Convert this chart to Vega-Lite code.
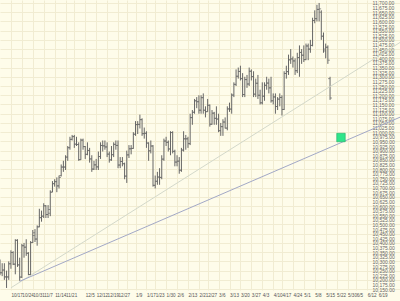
{
"$schema":"https://vega.github.io/schema/vega-lite/v6.json",
"width":400,"height":290,"padding":{"left":0,"top":0,"right":0,"bottom":11},"autosize":{"type":"none"},
"background":"#FEFCEA",
"config":{"view":{"stroke":null},"axis":{"labelFont":"Liberation Sans","title":null}},
"datasets":{
"bars":[
{"d":"2005-10-10","o":10292,"h":10310,"l":10225,"c":10238},
{"d":"2005-10-11","o":10238,"h":10290,"l":10220,"c":10253},
{"d":"2005-10-12","o":10253,"h":10290,"l":10200,"c":10216},
{"d":"2005-10-13","o":10216,"h":10250,"l":10156,"c":10216},
{"d":"2005-10-14","o":10216,"h":10300,"l":10200,"c":10287},
{"d":"2005-10-17","o":10287,"h":10360,"l":10260,"c":10348},
{"d":"2005-10-18","o":10348,"h":10355,"l":10280,"c":10285},
{"d":"2005-10-19","o":10285,"h":10420,"l":10230,"c":10414},
{"d":"2005-10-20","o":10414,"h":10420,"l":10270,"c":10281},
{"d":"2005-10-21","o":10281,"h":10320,"l":10195,"c":10215},
{"d":"2005-10-24","o":10215,"h":10395,"l":10210,"c":10385},
{"d":"2005-10-25","o":10385,"h":10400,"l":10320,"c":10377},
{"d":"2005-10-26","o":10377,"h":10420,"l":10330,"c":10344},
{"d":"2005-10-27","o":10344,"h":10350,"l":10225,"c":10229},
{"d":"2005-10-28","o":10229,"h":10410,"l":10225,"c":10402},
{"d":"2005-10-31","o":10402,"h":10470,"l":10400,"c":10440},
{"d":"2005-11-01","o":10455,"h":10475,"l":10405,"c":10421},
{"d":"2005-11-02","o":10421,"h":10495,"l":10385,"c":10487},
{"d":"2005-11-03","o":10487,"h":10585,"l":10485,"c":10537},
{"d":"2005-11-04","o":10537,"h":10575,"l":10515,"c":10545},
{"d":"2005-11-07","o":10545,"h":10615,"l":10535,"c":10601},
{"d":"2005-11-08","o":10601,"h":10605,"l":10535,"c":10554},
{"d":"2005-11-09","o":10554,"h":10605,"l":10535,"c":10561},
{"d":"2005-11-10","o":10581,"h":10685,"l":10545,"c":10675},
{"d":"2005-11-11","o":10675,"h":10735,"l":10675,"c":10721},
{"d":"2005-11-14","o":10721,"h":10745,"l":10705,"c":10732},
{"d":"2005-11-15","o":10732,"h":10755,"l":10675,"c":10709},
{"d":"2005-11-16","o":10709,"h":10765,"l":10695,"c":10755},
{"d":"2005-11-17","o":10765,"h":10825,"l":10760,"c":10811},
{"d":"2005-11-18","o":10811,"h":10845,"l":10785,"c":10811},
{"d":"2005-11-21","o":10811,"h":10875,"l":10795,"c":10865},
{"d":"2005-11-22","o":10865,"h":10925,"l":10845,"c":10916},
{"d":"2005-11-23","o":10916,"h":10975,"l":10905,"c":10961},
{"d":"2005-11-25","o":10961,"h":10985,"l":10955,"c":10976},
{"d":"2005-11-28","o":10976,"h":10985,"l":10915,"c":10935},
{"d":"2005-11-29","o":10935,"h":10975,"l":10925,"c":10933},
{"d":"2005-11-30","o":10933,"h":10945,"l":10845,"c":10851},
{"d":"2005-12-01","o":10851,"h":10965,"l":10850,"c":10957},
{"d":"2005-12-02","o":10957,"h":10965,"l":10905,"c":10922},
{"d":"2005-12-05","o":10922,"h":10925,"l":10855,"c":10880},
{"d":"2005-12-06","o":10880,"h":10945,"l":10875,"c":10901},
{"d":"2005-12-07","o":10901,"h":10915,"l":10835,"c":10855},
{"d":"2005-12-08","o":10855,"h":10875,"l":10785,"c":10800},
{"d":"2005-12-09","o":10800,"h":10845,"l":10795,"c":10823},
{"d":"2005-12-12","o":10823,"h":10855,"l":10795,"c":10812},
{"d":"2005-12-13","o":10812,"h":10895,"l":10795,"c":10868},
{"d":"2005-12-14","o":10868,"h":10945,"l":10855,"c":10928},
{"d":"2005-12-15","o":10928,"h":10955,"l":10895,"c":10926},
{"d":"2005-12-16","o":10926,"h":10955,"l":10905,"c":10920},
{"d":"2005-12-19","o":10920,"h":10945,"l":10865,"c":10881},
{"d":"2005-12-20","o":10881,"h":10895,"l":10835,"c":10850},
{"d":"2005-12-21","o":10850,"h":10925,"l":10845,"c":10878},
{"d":"2005-12-22","o":10878,"h":10945,"l":10865,"c":10934},
{"d":"2005-12-23","o":10934,"h":10955,"l":10905,"c":10928},
{"d":"2005-12-27","o":10928,"h":10955,"l":10805,"c":10822},
{"d":"2005-12-28","o":10822,"h":10865,"l":10805,"c":10841},
{"d":"2005-12-29","o":10841,"h":10865,"l":10815,"c":10829},
{"d":"2005-12-30","o":10829,"h":10835,"l":10745,"c":10762},
{"d":"2006-01-03","o":10762,"h":10900,"l":10725,"c":10877},
{"d":"2006-01-04","o":10877,"h":10930,"l":10860,"c":10910},
{"d":"2006-01-05","o":10910,"h":10930,"l":10880,"c":10912},
{"d":"2006-01-06","o":10912,"h":11000,"l":10910,"c":10989},
{"d":"2006-01-09","o":10989,"h":11060,"l":10980,"c":11041},
{"d":"2006-01-10","o":11041,"h":11060,"l":10990,"c":11042},
{"d":"2006-01-11","o":11042,"h":11095,"l":11020,"c":11068},
{"d":"2006-01-12","o":11068,"h":11075,"l":10980,"c":10992},
{"d":"2006-01-13","o":10992,"h":11025,"l":10965,"c":10994},
{"d":"2006-01-17","o":10994,"h":11005,"l":10915,"c":10941},
{"d":"2006-01-18","o":10941,"h":10945,"l":10845,"c":10899},
{"d":"2006-01-19","o":10899,"h":10955,"l":10885,"c":10925},
{"d":"2006-01-20","o":10925,"h":10930,"l":10705,"c":10712},
{"d":"2006-01-23","o":10712,"h":10765,"l":10695,"c":10734},
{"d":"2006-01-24","o":10734,"h":10785,"l":10715,"c":10757},
{"d":"2006-01-25","o":10757,"h":10805,"l":10715,"c":10755},
{"d":"2006-01-26","o":10755,"h":10875,"l":10745,"c":10854},
{"d":"2006-01-27","o":10854,"h":10965,"l":10845,"c":10952},
{"d":"2006-01-30","o":10952,"h":10975,"l":10925,"c":10945},
{"d":"2006-01-31","o":10945,"h":10955,"l":10895,"c":10909},
{"d":"2006-02-01","o":10909,"h":11005,"l":10875,"c":10998},
{"d":"2006-02-02","o":10998,"h":11005,"l":10885,"c":10896},
{"d":"2006-02-03","o":10896,"h":10905,"l":10815,"c":10838},
{"d":"2006-02-06","o":10838,"h":10875,"l":10815,"c":10843},
{"d":"2006-02-07","o":10843,"h":10865,"l":10775,"c":10794},
{"d":"2006-02-08","o":10794,"h":10915,"l":10785,"c":10903},
{"d":"2006-02-09","o":10903,"h":11005,"l":10895,"c":10964},
{"d":"2006-02-10","o":10964,"h":10985,"l":10905,"c":10964},
{"d":"2006-02-13","o":10964,"h":10975,"l":10915,"c":10938},
{"d":"2006-02-14","o":10938,"h":11100,"l":10930,"c":11079},
{"d":"2006-02-15","o":11079,"h":11120,"l":11040,"c":11108},
{"d":"2006-02-16","o":11108,"h":11180,"l":11100,"c":11170},
{"d":"2006-02-17","o":11170,"h":11190,"l":11130,"c":11165},
{"d":"2006-02-21","o":11165,"h":11200,"l":11100,"c":11119},
{"d":"2006-02-22","o":11119,"h":11200,"l":11100,"c":11187},
{"d":"2006-02-23","o":11187,"h":11210,"l":11100,"c":11119},
{"d":"2006-02-24","o":11119,"h":11140,"l":11080,"c":11111},
{"d":"2006-02-27","o":11111,"h":11180,"l":11110,"c":11146},
{"d":"2006-02-28","o":11146,"h":11150,"l":11030,"c":11043},
{"d":"2006-03-01","o":11043,"h":11120,"l":11040,"c":11103},
{"d":"2006-03-02","o":11103,"h":11110,"l":11040,"c":11075},
{"d":"2006-03-03","o":11075,"h":11140,"l":11040,"c":11071},
{"d":"2006-03-06","o":11071,"h":11100,"l":11000,"c":11008},
{"d":"2006-03-07","o":11008,"h":11050,"l":10980,"c":11030},
{"d":"2006-03-08","o":11030,"h":11070,"l":10980,"c":11055},
{"d":"2006-03-09","o":11055,"h":11080,"l":11020,"c":11022},
{"d":"2006-03-10","o":11022,"h":11140,"l":11010,"c":11126},
{"d":"2006-03-13","o":11126,"h":11160,"l":11110,"c":11125},
{"d":"2006-03-14","o":11125,"h":11210,"l":11100,"c":11201},
{"d":"2006-03-15","o":11201,"h":11270,"l":11190,"c":11259},
{"d":"2006-03-16","o":11259,"h":11340,"l":11250,"c":11303},
{"d":"2006-03-17","o":11303,"h":11350,"l":11290,"c":11329},
{"d":"2006-03-20","o":11329,"h":11360,"l":11280,"c":11290},
{"d":"2006-03-21","o":11290,"h":11320,"l":11190,"c":11204},
{"d":"2006-03-22","o":11204,"h":11300,"l":11190,"c":11285},
{"d":"2006-03-23","o":11285,"h":11310,"l":11240,"c":11261},
{"d":"2006-03-24","o":11261,"h":11350,"l":11250,"c":11330},
{"d":"2006-03-27","o":11330,"h":11340,"l":11280,"c":11301},
{"d":"2006-03-28","o":11301,"h":11330,"l":11190,"c":11206},
{"d":"2006-03-29","o":11206,"h":11290,"l":11190,"c":11265},
{"d":"2006-03-30","o":11265,"h":11310,"l":11180,"c":11200},
{"d":"2006-03-31","o":11200,"h":11230,"l":11150,"c":11159},
{"d":"2006-04-03","o":11159,"h":11270,"l":11150,"c":11195},
{"d":"2006-04-04","o":11195,"h":11270,"l":11170,"c":11254},
{"d":"2006-04-05","o":11254,"h":11300,"l":11230,"c":11266},
{"d":"2006-04-06","o":11266,"h":11290,"l":11210,"c":11240},
{"d":"2006-04-07","o":11240,"h":11300,"l":11160,"c":11170},
{"d":"2006-04-10","o":11170,"h":11210,"l":11150,"c":11191},
{"d":"2006-04-11","o":11191,"h":11210,"l":11100,"c":11139},
{"d":"2006-04-12","o":11139,"h":11190,"l":11120,"c":11179},
{"d":"2006-04-13","o":11179,"h":11210,"l":11140,"c":11188},
{"d":"2006-04-17","o":11188,"h":11200,"l":11090,"c":11123},
{"d":"2006-04-18","o":11123,"h":11330,"l":11120,"c":11318},
{"d":"2006-04-19","o":11318,"h":11360,"l":11290,"c":11328},
{"d":"2006-04-20","o":11328,"h":11420,"l":11310,"c":11392},
{"d":"2006-04-21","o":11392,"h":11450,"l":11370,"c":11397},
{"d":"2006-04-24","o":11397,"h":11410,"l":11350,"c":11386},
{"d":"2006-04-25","o":11386,"h":11400,"l":11310,"c":11333},
{"d":"2006-04-26","o":11333,"h":11430,"l":11320,"c":11404},
{"d":"2006-04-27","o":11404,"h":11470,"l":11300,"c":11432},
{"d":"2006-04-28","o":11432,"h":11450,"l":11370,"c":11417},
{"d":"2006-05-01","o":11417,"h":11470,"l":11380,"c":11393},
{"d":"2006-05-02","o":11393,"h":11480,"l":11390,"c":11467},
{"d":"2006-05-03","o":11467,"h":11480,"l":11390,"c":11450},
{"d":"2006-05-04","o":11450,"h":11500,"l":11430,"c":11470},
{"d":"2006-05-05","o":11470,"h":11620,"l":11465,"c":11605},
{"d":"2006-05-08","o":11605,"h":11660,"l":11590,"c":11615},
{"d":"2006-05-09","o":11615,"h":11690,"l":11600,"c":11665},
{"d":"2006-05-10","o":11665,"h":11700,"l":11600,"c":11668},
{"d":"2006-05-11","o":11650,"h":11660,"l":11500,"c":11520},
{"d":"2006-05-12","o":11520,"h":11540,"l":11430,"c":11450},
{"d":"2006-05-15","o":11440,"h":11480,"l":11400,"c":11460},
{"d":"2006-05-16","o":11460,"h":11470,"l":11370,"c":11390},
{"d":"2006-05-17","o":11290,"h":11300,"l":11175,"c":11185}
],
"lines":[
{"line":"upper","d":"2005-10-17","v":10157},
{"line":"upper","d":"2006-07-03","v":11486},
{"line":"lower","d":"2005-10-21","v":10192},
{"line":"lower","d":"2006-07-03","v":11081}
],
"target":[{"d":"2006-05-24","v":10971}]
},
"encoding":{
"x":{"field":"d","type":"ordinal","scale":{"type":"point","padding":0,"domain":["2005-10-10","2005-10-11","2005-10-12","2005-10-13","2005-10-14","2005-10-17","2005-10-18","2005-10-19","2005-10-20","2005-10-21","2005-10-24","2005-10-25","2005-10-26","2005-10-27","2005-10-28","2005-10-31","2005-11-01","2005-11-02","2005-11-03","2005-11-04","2005-11-07","2005-11-08","2005-11-09","2005-11-10","2005-11-11","2005-11-14","2005-11-15","2005-11-16","2005-11-17","2005-11-18","2005-11-21","2005-11-22","2005-11-23","2005-11-25","2005-11-28","2005-11-29","2005-11-30","2005-12-01","2005-12-02","2005-12-05","2005-12-06","2005-12-07","2005-12-08","2005-12-09","2005-12-12","2005-12-13","2005-12-14","2005-12-15","2005-12-16","2005-12-19","2005-12-20","2005-12-21","2005-12-22","2005-12-23","2005-12-27","2005-12-28","2005-12-29","2005-12-30","2006-01-03","2006-01-04","2006-01-05","2006-01-06","2006-01-09","2006-01-10","2006-01-11","2006-01-12","2006-01-13","2006-01-17","2006-01-18","2006-01-19","2006-01-20","2006-01-23","2006-01-24","2006-01-25","2006-01-26","2006-01-27","2006-01-30","2006-01-31","2006-02-01","2006-02-02","2006-02-03","2006-02-06","2006-02-07","2006-02-08","2006-02-09","2006-02-10","2006-02-13","2006-02-14","2006-02-15","2006-02-16","2006-02-17","2006-02-21","2006-02-22","2006-02-23","2006-02-24","2006-02-27","2006-02-28","2006-03-01","2006-03-02","2006-03-03","2006-03-06","2006-03-07","2006-03-08","2006-03-09","2006-03-10","2006-03-13","2006-03-14","2006-03-15","2006-03-16","2006-03-17","2006-03-20","2006-03-21","2006-03-22","2006-03-23","2006-03-24","2006-03-27","2006-03-28","2006-03-29","2006-03-30","2006-03-31","2006-04-03","2006-04-04","2006-04-05","2006-04-06","2006-04-07","2006-04-10","2006-04-11","2006-04-12","2006-04-13","2006-04-17","2006-04-18","2006-04-19","2006-04-20","2006-04-21","2006-04-24","2006-04-25","2006-04-26","2006-04-27","2006-04-28","2006-05-01","2006-05-02","2006-05-03","2006-05-04","2006-05-05","2006-05-08","2006-05-09","2006-05-10","2006-05-11","2006-05-12","2006-05-15","2006-05-16","2006-05-17","2006-05-18","2006-05-19","2006-05-22","2006-05-23","2006-05-24","2006-05-25","2006-05-26","2006-05-30","2006-05-31","2006-06-01","2006-06-02","2006-06-05","2006-06-06","2006-06-07","2006-06-08","2006-06-09","2006-06-12","2006-06-13","2006-06-14","2006-06-15","2006-06-16","2006-06-19","2006-06-20","2006-06-21","2006-06-22","2006-06-23","2006-06-26","2006-06-27","2006-06-28","2006-06-29","2006-06-30","2006-07-03"]},
"axis":{"orient":"bottom","values":["2005-10-10","2005-10-17","2005-10-24","2005-10-31","2005-11-07","2005-11-14","2005-11-21","2005-11-28","2005-12-05","2005-12-12","2005-12-19","2005-12-27","2006-01-03","2006-01-09","2006-01-17","2006-01-23","2006-01-30","2006-02-06","2006-02-13","2006-02-21","2006-02-27","2006-03-06","2006-03-13","2006-03-20","2006-03-27","2006-04-03","2006-04-10","2006-04-17","2006-04-24","2006-05-01","2006-05-08","2006-05-15","2006-05-22","2006-05-30","2006-06-05","2006-06-12","2006-06-19","2006-06-26","2006-07-03"],
"labelExpr":"indexof(['2005-11-28','2006-01-03','2006-06-26','2006-07-03'], datum.value) >= 0 ? '' : utcFormat(toDate(datum.value), '%-m/%-d')",
"labelFont":"Liberation Sans Narrow, Liberation Sans","labelFontSize":4.6,"labelAlign":"left","labelAngle":0,"labelPadding":2,"labelOverlap":false,"labelColor":"#555","ticks":false,"domain":false,"grid":true,"gridColor":"#F1ECD2","gridWidth":1}}
},
"layer":[
{"data":{"name":"bars"},"mark":{"type":"rule","color":"#666","strokeWidth":1},
"encoding":{"y":{"field":"l","type":"quantitative","scale":{"domain":[10145,11716],"zero":false,"nice":false},
"axis":{"orient":"left","values":[10150,10200,10250,10300,10350,10400,10450,10500,10550,10600,10650,10700,10750,10800,10850,10900,10950,11000,11050,11100,11150,11200,11250,11300,11350,11400,11450,11500,11550,11600,11650,11700],"labels":false,"ticks":false,"domain":false,"grid":true,"gridColor":"#F1ECD2","gridWidth":1}},
"y2":{"field":"h"}}},
{"data":{"name":"bars"},"mark":{"type":"tick","color":"#666","size":2,"thickness":1,"xOffset":-1},
"encoding":{"y":{"field":"o","type":"quantitative",
"axis":{"orient":"right","values":[10150,10175,10200,10225,10250,10275,10300,10325,10350,10375,10400,10425,10450,10475,10500,10525,10550,10575,10600,10625,10650,10675,10700,10725,10750,10775,10800,10825,10850,10875,10900,10925,10950,10975,11000,11025,11050,11075,11100,11125,11150,11175,11200,11225,11250,11275,11300,11325,11350,11375,11400,11425,11450,11475,11500,11525,11550,11575,11600,11625,11650,11675,11700],"format":",.2f","labelFontSize":5,"labelAlign":"left","labelPadding":-28,"labelColor":"#666","labelOverlap":false,"labelBound":false,"ticks":false,"domain":false,"grid":false}}}},
{"data":{"name":"bars"},"mark":{"type":"tick","color":"#666","size":2,"thickness":1,"xOffset":1},
"encoding":{"y":{"field":"c","type":"quantitative","axis":null}}},
{"data":{"name":"lines"},"mark":{"type":"line","strokeWidth":1},
"encoding":{"y":{"field":"v","type":"quantitative","axis":null},
"color":{"field":"line","type":"nominal","scale":{"domain":["upper","lower"],"range":["#D3D8CA","#A2A8C6"]},"legend":null}}},
{"data":{"name":"target"},"mark":{"type":"point","shape":"square","filled":true,"size":72,"color":"#2FE58A","opacity":1,"stroke":"#1FAF66","strokeWidth":0.6},
"encoding":{"y":{"field":"v","type":"quantitative","axis":null}}}
],
"resolve":{"axis":{"y":"independent"}}
}
